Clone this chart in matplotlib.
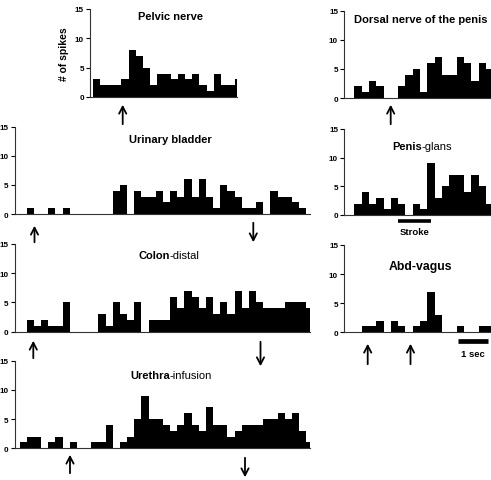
import matplotlib
matplotlib.use("Agg")
import matplotlib.pyplot as plt

plt.rcParams['font.family'] = ['Liberation Sans', 'DejaVu Sans']

W, H = 491, 481

# spike counts per bin
pelvic = [3, 2, 2, 2, 3, 8, 7, 5, 2, 4, 4, 3, 4, 3, 4, 2, 1, 4, 2, 2, 3]
bladder = [1, 0, 0, 1, 0, 1, 0, 0, 0, 0, 0, 0, 4, 5, 0, 4, 3, 3, 4, 2, 4, 3, 6, 3, 6, 3,
           1, 5, 4, 3, 1, 1, 2, 0, 4, 3, 3, 2, 1]
colon = [2, 1, 2, 1, 1, 5, 0, 0, 0, 0, 3, 1, 5, 3, 2, 5, 0, 2, 2, 2, 6, 4, 7, 6, 4, 6,
         3, 5, 3, 7, 4, 7, 5, 4, 4, 4, 5, 5, 5, 4]
urethra = [1, 2, 2, 0, 1, 2, 0, 1, 0, 0, 1, 1, 4, 0, 1, 2, 5, 9, 5, 5, 4, 3, 4, 6, 4, 3,
           7, 4, 4, 2, 3, 4, 4, 4, 5, 5, 6, 5, 6, 3, 1]
dorsal = [2, 1, 3, 2, 0, 0, 2, 4, 5, 1, 6, 7, 4, 4, 7, 6, 3, 6, 5]
glans = [2, 4, 2, 3, 1, 3, 2, 0, 2, 1, 9, 3, 5, 7, 7, 4, 7, 5, 2]
vagus = [0, 1, 1, 2, 0, 2, 1, 0, 1, 2, 7, 3, 0, 0, 1, 0, 0, 1, 1]

yticks = [0, 5, 10, 15]

fig = plt.figure(figsize=(W / 100, H / 100), dpi=100)


def px(x, y):
    return x / W, 1 - y / H


def panel(counts, start, box, xlim):
    x0, ytop, x1, ybot = box
    ax = fig.add_axes([x0 / W, 1 - ybot / H, (x1 - x0) / W, (ybot - ytop) / H])
    xs = [start + i for i in range(len(counts))]
    ax.bar(xs, counts, width=1.0, align='edge', color='black', linewidth=0)
    ax.set_xlim(*xlim)
    ax.set_ylim(0, 15)
    ax.set_yticks(yticks)
    ax.set_xticks([])
    for s in ['top', 'right']:
        ax.spines[s].set_visible(False)
    for s in ['left', 'bottom']:
        ax.spines[s].set_linewidth(0.8)
        ax.spines[s].set_color('#333333')
    ax.tick_params(axis='y', length=3, width=0.8, pad=1.5, labelsize=5.9)
    for lab in ax.get_yticklabels():
        lab.set_fontweight('bold')
    ax.patch.set_alpha(0)
    return ax


# left column: bin width 7.17 px, bin 0 starts at x=26.7
lw_ = 7.17
llim = ((15 - 26.7) / lw_, (310 - 26.7) / lw_)
panel(bladder, 0, (15, 127.7, 310, 215), llim)
panel(colon, 0, (15, 245, 310, 332.7), llim)
panel(urethra, -1, (15, 361.7, 310, 449.3), llim)

# pelvic nerve
ax_p = panel(pelvic, 0, (90, 10, 237.5, 98), ((90 - 93) / 7.1, (237.5 - 93) / 7.1))
ax_p.set_ylabel('# of spikes', fontsize=7.5, fontweight='bold', labelpad=4)

# right column: bin width 7.31 px, bin 0 starts at x=354.3
rw = 7.31
rlim = ((344.3 - 354.3) / rw, (491 - 354.3) / rw)
panel(dorsal, 0, (344.3, 11.7, 491, 99), rlim)
panel(glans, 0, (344.3, 130, 491, 216), rlim)
panel(vagus, 0, (344.3, 246, 491, 333.3), rlim)

# titles
tfs = 8.0
fig.text(*px(170, 17), 'Pelvic nerve', fontsize=tfs, fontweight='bold', ha='center', va='center')
fig.text(*px(170, 140), 'Urinary bladder', fontsize=tfs, fontweight='bold', ha='center', va='center')
fig.text(*px(170, 256), 'Colon', fontsize=tfs, fontweight='bold', ha='right', va='center')
fig.text(*px(170, 256), '-distal', fontsize=tfs, ha='left', va='center')
fig.text(*px(170, 376), 'Urethra', fontsize=tfs, fontweight='bold', ha='right', va='center')
fig.text(*px(170, 376), '-infusion', fontsize=tfs, ha='left', va='center')
fig.text(*px(421, 20), 'Dorsal nerve of the penis', fontsize=tfs, fontweight='bold', ha='center', va='center')
fig.text(*px(421.7, 147), 'Penis', fontsize=tfs, fontweight='bold', ha='right', va='center')
fig.text(*px(421.7, 147), '-glans', fontsize=tfs, ha='left', va='center')
fig.text(*px(420.5, 267), 'Abd-vagus', fontsize=8.8, fontweight='bold', ha='center', va='center')

# stimulus arrows (x, tail y, head y) in pixels
arrows = [
    (122.7, 128, 103),
    (34.5, 246, 224),
    (253.3, 221, 246),
    (33.3, 362, 339),
    (260.5, 340, 370),
    (70, 477, 453),
    (245, 456, 481),
    (390.7, 128, 103),
    (367.7, 368, 342),
    (410.5, 368, 342),
]
for x, yt, yh in arrows:
    fig.add_artist(matplotlib.patches.FancyArrowPatch(
        px(x, yt), px(x, yh), transform=fig.transFigure,
        arrowstyle='->,head_length=5,head_width=2.6', mutation_scale=1,
        color='black', lw=1.3))

# stroke bar and time scale bar
fig.add_artist(plt.Line2D([398.3 / W, 431 / W], [1 - 221.7 / H] * 2, color='black', lw=2.6,
                          transform=fig.transFigure, solid_capstyle='butt'))
fig.text(*px(414.7, 232.5), 'Stroke', fontsize=6.8, fontweight='bold', ha='center', va='center')
fig.add_artist(plt.Line2D([458.3 / W, 487.7 / W], [1 - 342 / H] * 2, color='black', lw=3.4,
                          transform=fig.transFigure, solid_capstyle='butt'))
fig.text(*px(473, 355), '1 sec', fontsize=6.8, fontweight='bold', ha='center', va='center')

fig.savefig('out.png', dpi=100)
